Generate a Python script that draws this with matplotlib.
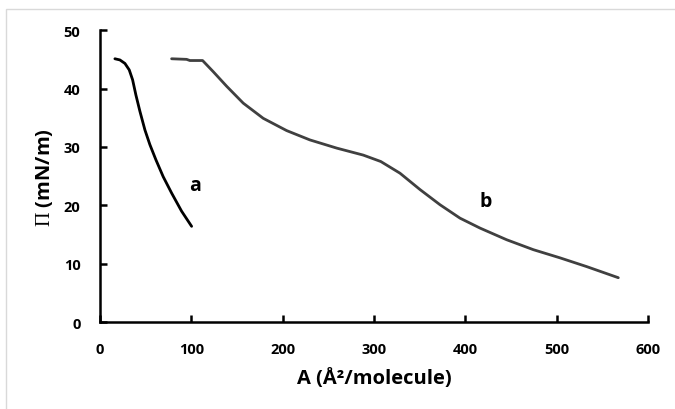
import matplotlib
matplotlib.use("Agg")
import matplotlib.pyplot as plt
from matplotlib.patches import Rectangle

# Isotherm a (area in A^2/molecule, surface pressure in mN/m)
area_a = [16.4, 21.9, 27.4, 32.1, 35.8, 39.4, 43.8, 49.3, 54.7, 61.3, 69.3, 78.5, 89.4, 100.4]
pi_a = [45.1, 44.9, 44.3, 43.2, 41.5, 38.9, 36.1, 32.9, 30.4, 27.8, 24.9, 22.1, 19.0, 16.4]

# Isotherm b
area_b = [78.5, 94.9, 98.5, 112.4, 124, 138.7, 156.9, 178.8, 204.4, 229.9, 259.2, 288.3,
          307.5, 328.5, 350.4, 372.3, 394.2, 416.1, 445.3, 474.5, 503.7, 532.9, 567.5]
pi_b = [45.1, 45.0, 44.8, 44.8, 42.9, 40.4, 37.5, 34.9, 32.8, 31.2, 29.8, 28.6,
        27.5, 25.5, 22.7, 20.1, 17.8, 16.1, 14.1, 12.4, 11.0, 9.5, 7.6]

x_ticks = [0, 100, 200, 300, 400, 500, 600]
y_ticks = [0, 10, 20, 30, 40, 50]

plt.rcParams["font.family"] = ["Open Sans", "DejaVu Sans"]
plt.rcParams["mathtext.fontset"] = "custom"
plt.rcParams["mathtext.rm"] = "Liberation Serif"

fig = plt.figure(figsize=(6.75, 4.1), dpi=100)
ax = fig.add_axes([0.148, 0.212, 0.812, 0.712])

# light frame around the chart area (cut by the image edge on right/bottom)
fig.patches.append(Rectangle((6 / 675, -0.1), 1.2, 1.1 - 10 / 410,
                             transform=fig.transFigure, fill=False,
                             edgecolor="#d9d9d9", linewidth=1.0))

ax.plot(area_a, pi_a, color="black", linewidth=2.0, solid_capstyle="round",
        solid_joinstyle="round")
ax.plot(area_b, pi_b, color="#404040", linewidth=2.0, solid_capstyle="round",
        solid_joinstyle="round")

ax.text(104, 23.5, "a", fontsize=14, fontweight="bold", ha="center", va="center")
ax.text(422, 20.7, "b", fontsize=14, fontweight="bold", ha="center", va="center")

ax.set_xlim(0, 600)
ax.set_ylim(0, 50)
ax.set_xticks(x_ticks)
ax.set_yticks(y_ticks)
ax.tick_params(direction="in", length=5, width=1.8, labelsize=10.5, pad=14)
ax.tick_params(axis="y", pad=14)
for lbl in ax.get_xticklabels() + ax.get_yticklabels():
    lbl.set_fontweight("bold")

for side in ["top", "right"]:
    ax.spines[side].set_visible(False)
for side in ["left", "bottom"]:
    ax.spines[side].set_linewidth(1.8)

ax.set_xlabel("A (Å²/molecule)", fontsize=14.5, fontweight="bold", labelpad=9)
ax.set_ylabel(r"$\Pi$ (mN/m)", fontsize=14.5, fontweight="bold", labelpad=6)

fig.savefig("out.png", dpi=100)
